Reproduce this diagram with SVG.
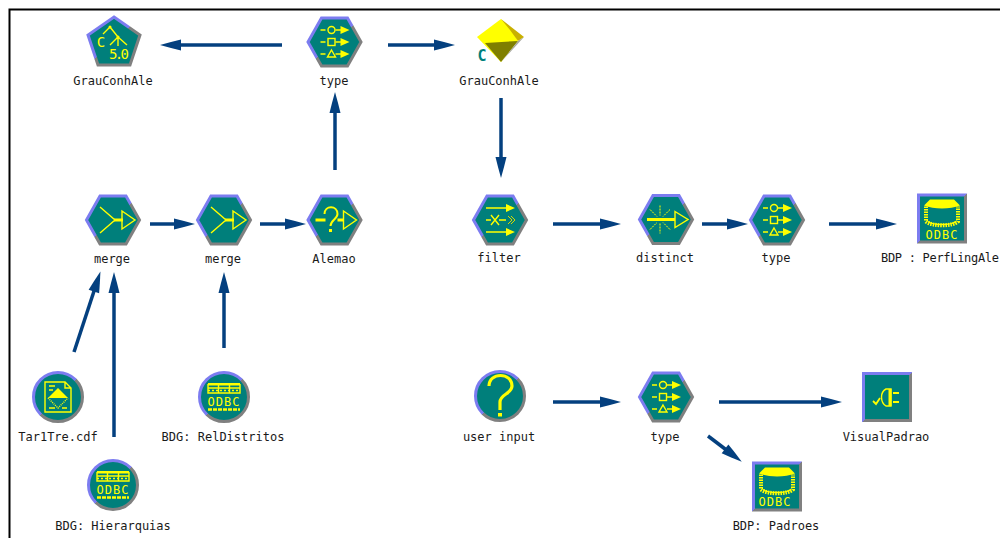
<svg xmlns="http://www.w3.org/2000/svg" width="1000" height="538" viewBox="0 0 1000 538">
<style>
.lb{font-family:"DejaVu Sans Mono","Liberation Mono",monospace;font-size:12px;fill:#1a1a1a;text-anchor:middle}
.sh{fill:#007f7b;stroke:url(#edge);stroke-width:3;stroke-linejoin:miter}
.y{fill:none;stroke:#ffff00;stroke-width:1.4}
.yb{fill:none;stroke:#ffff00;stroke-width:3}
.yf{fill:#ffff00;stroke:none}
.od{font-family:"DejaVu Sans Mono","Liberation Mono",monospace;font-size:12px;fill:#ffff00;text-anchor:middle;letter-spacing:1px}
.cn{fill:none;stroke:#04407f;stroke-width:3.5;marker-end:url(#ah)}
</style>
<defs>
<linearGradient id="edge" x1="0" y1="0" x2="1" y2="1">
<stop offset="0.5" stop-color="#7c7cf0"/><stop offset="0.5" stop-color="#808080"/>
</linearGradient>
<marker id="ah" markerUnits="userSpaceOnUse" markerWidth="26" markerHeight="14" viewBox="-12 -7 26 14" refX="0" refY="0" orient="auto" overflow="visible">
<polygon points="11,0 0,-3 -10,-5.5 -10,5.5 0,3" fill="#04407f"/>
</marker>
<polygon id="hex" class="sh" points="-26.5,0 -13,-24 13,-24 26.5,0 13,24 -13,24"/>
<circle id="circ" class="sh" r="24.5"/>
<rect id="sq" class="sh" x="-23.5" y="-23.5" width="47" height="47"/>
<g id="typeIcon">
<path class="y" d="M-14,-12H-9M-14,0H-9M-14,12H-9M1,-12H7M1,0H7M1,12H7"/>
<circle class="y" cx="-3" cy="-12" r="3.5"/>
<rect class="y" x="-6.5" y="-3.5" width="7" height="7"/>
<path class="y" d="M-3,8L1,15H-7Z"/>
<path class="yf" d="M6,-16L15,-12L6,-8ZM6,-4L15,0L6,4ZM6,8L15,12L6,16Z"/>
</g>
<g id="mergeIcon">
<path class="y" d="M-13,-13L2,0L-13,13"/>
<path class="yb" d="M1,0H10"/>
<path class="y" d="M9,-9L22,0L9,9Z"/>
</g>
<g id="grid">
<rect class="yf" x="-16" y="-14" width="32" height="2.5"/>
<path class="y" d="M-16,-13V-4H16V-13M-5.500,-13V-4M5.500,-13V-4M-16,-9H16"/>
<path d="M-16,-6.500H16" fill="none" stroke="#ffff00" stroke-width="1.500" stroke-dasharray="2 2"/>
<path d="M-16,12.500H16" fill="none" stroke="#ffff00" stroke-width="2.500" stroke-dasharray="4 1"/>
</g>
<g id="cyl">
<path d="M-16,-12V3C-11,8 11,8 16,3V-12" fill="none" stroke="#ffff00" stroke-width="4" stroke-dasharray="1.500 1"/>
<path d="M-14,3C-9,7 9,7 14,3" class="y"/>
<path d="M-12,-19H12L18,-13C8,-9 -8,-9 -18,-13Z" class="yf"/>
</g>
</defs>
<rect width="1000" height="538" fill="#fff"/>
<path d="M9.500,538V9.500H1000" fill="none" stroke="#000" stroke-width="2"/>

<g id="connectors">
<path class="cn" d="M282,45H171"/>
<path class="cn" d="M388,45H444"/>
<path class="cn" d="M335,170V103"/>
<path class="cn" d="M150,224H184"/>
<path class="cn" d="M260,224H295"/>
<path class="cn" d="M501,98V167"/>
<path class="cn" d="M553,224H610"/>
<path class="cn" d="M702,224H737"/>
<path class="cn" d="M829,224H886"/>
<path class="cn" d="M553,402H610"/>
<path class="cn" d="M719,402H831"/>
<path class="cn" d="M708,436L733,455"/>
<path class="cn" d="M74,352L97,282"/>
<path class="cn" d="M114,437V283"/>
<path class="cn" d="M224,348V283"/>
</g>

<g id="n-pentagon">
<polygon class="sh" points="114,17 140,35 130,65 98,65 88,35"/>
<path class="y" d="M110,27L103,34M110,27L118,37L110,45M118,37L127,45M118,37V46"/>
<circle class="yf" cx="110" cy="27" r="1.500"/><circle class="yf" cx="118" cy="37" r="1.500"/>
<text x="101" y="47" font-family="DejaVu Sans Mono,monospace" font-size="14" fill="#ffff00" text-anchor="middle">C</text>
<text x="119" y="59" font-family="DejaVu Sans Mono,monospace" font-size="14" fill="#ffff00" text-anchor="middle" textLength="20">5.0</text>
<text class="lb" x="113" y="85">GrauConhAle</text>
</g>
<g id="n-type1"><use href="#hex" x="334.500" y="42"/><use href="#typeIcon" x="334.500" y="42"/><text class="lb" x="334" y="85">type</text></g>
<g id="n-diamond">
<polygon points="501,19 477,37 501,62 518,41 512,30" fill="#ffff00"/>
<polygon points="501,19 524,37 518,41 510,30" fill="#c9b000"/>
<polygon points="485,43 518,41 501,62" fill="#7f7f00"/>
<polygon points="518,41 524,37 501,62" fill="#a8a8a0"/>
<text x="482" y="61" font-family="DejaVu Sans Mono,monospace" font-weight="bold" font-size="15" fill="#007f7b" text-anchor="middle">C</text>
<text class="lb" x="499" y="85">GrauConhAle</text>
</g>
<g id="n-merge1"><use href="#hex" x="113" y="220"/><use href="#mergeIcon" x="113" y="220"/><text class="lb" x="112" y="263">merge</text></g>
<g id="n-merge2"><use href="#hex" x="224" y="220"/><use href="#mergeIcon" x="224" y="220"/><text class="lb" x="223" y="263">merge</text></g>
<g id="n-alemao"><use href="#hex" x="334.500" y="220"/>
<g transform="translate(334.500 220)">
<path class="yb" d="M-19,0H-9M3,0H9"/>
<path d="M-10,-6C-10,-15 3,-15 3,-6C3,-1 -4,0 -4,6" fill="none" stroke="#ffff00" stroke-width="2"/>
<rect class="yf" x="-5.500" y="9" width="3" height="3"/>
<path class="y" d="M9,-9L22,0L9,9Z"/>
</g>
<text class="lb" x="334" y="263">Alemao</text></g>
<g id="n-filter"><use href="#hex" x="500" y="220"/>
<g transform="translate(500 220)">
<path class="y" d="M-14,-12H7M-14,12H7M-14,0H-9M-9,-5L-1,5M-9,5L-1,-5M-1,0H6"/>
<path class="yf" d="M6,-16L15,-12L6,-8ZM6,8L15,12L6,16Z"/>
<path d="M8,-4L12,0L8,4M11,-4L15,0L11,4" fill="none" stroke="#d8d800" stroke-width="1" />
</g>
<text class="lb" x="499" y="262">filter</text></g>
<g id="n-distinct"><use href="#hex" x="666" y="219.500"/>
<g transform="translate(666 219.500)">
<path class="yb" d="M-19,0H9"/>
<path d="M-6,-14V-4M-6,4V14M-16,-10L-9,-3M-16,10L-9,3M4,-10L-3,-3M4,10L-3,3" fill="none" stroke="#ffff00" stroke-width="1" stroke-dasharray="2 1"/>
<path class="y" d="M9,-8L22,0L9,8Z"/>
</g>
<text class="lb" x="665" y="262">distinct</text></g>
<g id="n-type2"><use href="#hex" x="777" y="220"/><use href="#typeIcon" x="777" y="220"/><text class="lb" x="776" y="262">type</text></g>
<g id="n-perf"><use href="#sq" x="942" y="218.500"/><use href="#cyl" x="942" y="218.500"/>
<text class="od" x="942" y="238.500">ODBC</text>
<text class="lb" x="881" y="262" style="text-anchor:start" textLength="118" lengthAdjust="spacing">BDP : PerfLingAle</text></g>
<g id="n-user"><use href="#circ" x="500" y="396"/>
<path d="M489,386C489,372 512,372 512,386C512,394 500,394 500,402V410" fill="none" stroke="#ffff00" stroke-width="3.200"/>
<rect class="yf" x="498" y="413" width="4" height="3.500"/>
<text class="lb" x="499" y="441">user input</text></g>
<g id="n-type3"><use href="#hex" x="666" y="397"/><use href="#typeIcon" x="666" y="397"/><text class="lb" x="665" y="441">type</text></g>
<g id="n-visual"><use href="#sq" x="887" y="397"/>
<path d="M873,401L876,404L880,398" class="yb" style="stroke-width:1.800"/>
<path d="M891,389H886C880,392 880,402 886,406H891Z" class="y"/>
<path d="M890,389V406" class="yb"/>
<path d="M893,393H899M893,402H899" class="yb" style="stroke-width:2"/>
<text class="lb" x="886" y="441">VisualPadrao</text></g>
<g id="n-padroes"><use href="#sq" x="777" y="486.500"/><use href="#cyl" x="777" y="486.500"/>
<text class="od" x="775" y="506">ODBC</text>
<text class="lb" x="776" y="530">BDP: Padroes</text></g>
<g id="n-tar"><use href="#circ" x="58" y="397"/>
<g transform="translate(58 397)">
<path class="y" d="M-13,-15H7L13,-9V15H-13ZM7,-15V-9H13M-9,-11H-3M-9,-7H-5M-9,11H-3M4,11H9"/>
<path class="yf" d="M0,-9L10,1H-10Z"/>
<path class="y" d="M-10,1L0,11L10,1" stroke-dasharray="1 1"/>
</g>
<text class="lb" x="58" y="441">Tar1Tre.cdf</text></g>
<g id="n-rel"><use href="#circ" x="224" y="397"/><use href="#grid" x="224" y="397"/>
<text class="od" x="224" y="406">ODBC</text>
<text class="lb" x="223" y="441">BDG: RelDistritos</text></g>
<g id="n-hier"><use href="#circ" x="113" y="485"/><use href="#grid" x="113" y="485"/>
<text class="od" x="113" y="494">ODBC</text>
<text class="lb" x="113" y="530">BDG: Hierarquias</text></g>
</svg>
